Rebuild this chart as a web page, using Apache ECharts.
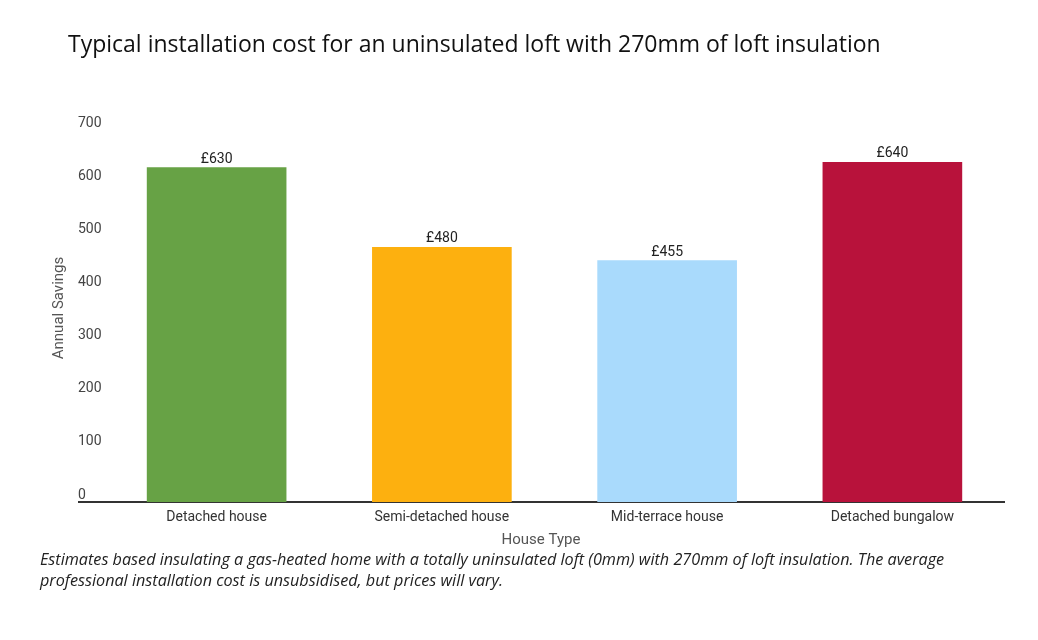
<!DOCTYPE html>
<html>
<head>
<meta charset="utf-8" />
<title>Loft insulation cost</title>
<script src="https://cdn.jsdelivr.net/npm/echarts@6/dist/echarts.min.js"></script>
<style>
  html, body { margin: 0; padding: 0; background: #fff; }
  #main { width: 1038px; height: 640px; }
</style>
</head>
<body>
<div id="main"></div>
<script>
// data
var houseTypes = ['Detached house', 'Semi-detached house', 'Mid-terrace house', 'Detached bungalow'];
var costs = [630, 480, 455, 640];
var barColors = ['#67a245', '#fdb00f', '#a9dafc', '#b8123b'];
var yTicks = [0, 100, 200, 300, 400, 500, 600, 700];

var chart = echarts.init(document.getElementById('main'));

var option = {
  animation: false,
  title: {
    text: 'Typical installation cost for an uninsulated loft with 270mm of loft insulation',
    left: 63,
    top: 29,
    textStyle: { fontFamily: 'Open Sans', fontSize: 23, fontWeight: 'normal', color: '#111' }
  },
  grid: { left: 104, right: 33, top: 130, bottom: 138 },
  xAxis: {
    type: 'category',
    data: houseTypes,
    name: 'House Type',
    nameLocation: 'middle',
    nameGap: 31,
    nameTextStyle: { fontFamily: 'Roboto', fontSize: 15, color: '#555', padding: [0, 27, 0, 0] },
    axisLine: { show: false },
    axisTick: { show: false },
    axisLabel: { fontFamily: 'Roboto', fontSize: 14, color: '#333', margin: 8 }
  },
  yAxis: {
    type: 'value',
    min: yTicks[0],
    max: yTicks[yTicks.length - 1],
    interval: 100,
    name: 'Annual Savings',
    nameLocation: 'middle',
    nameGap: 36,
    nameTextStyle: { fontFamily: 'Roboto', fontSize: 15, color: '#555', padding: [0, 0, 0, 16] },
    splitLine: { show: false },
    axisLine: { show: false },
    axisTick: { show: false },
    axisLabel: {
      fontFamily: 'Roboto', fontSize: 14, color: '#444',
      align: 'left', margin: 26, verticalAlign: 'bottom'
    }
  },
  graphic: [{
    // baseline running under the tick labels, as in the original
    type: 'line',
    shape: { x1: 78, y1: 502, x2: 1005, y2: 502 },
    style: { stroke: '#333', lineWidth: 2 }
  }, {
    type: 'text',
    left: 40,
    top: 550,
    style: {
      text: 'Estimates based insulating a gas-heated home with a totally uninsulated loft (0mm) with 270mm of loft insulation. The average\nprofessional installation cost is unsubsidised, but prices will vary.',
      font: 'italic 16.2px "Open Sans"',
      lineHeight: 21,
      fill: '#222'
    }
  }],
  series: [{
    type: 'bar',
    barWidth: '62%',
    data: costs.map(function (v, i) {
      return { value: v, itemStyle: { color: barColors[i] } };
    }),
    label: {
      show: true,
      position: 'top',
      distance: 1,
      fontFamily: 'Roboto',
      fontSize: 14,
      color: '#222',
      formatter: function (p) { return '£' + p.value; }
    }
  }]
};

chart.setOption(option);
</script>
</body>
</html>
